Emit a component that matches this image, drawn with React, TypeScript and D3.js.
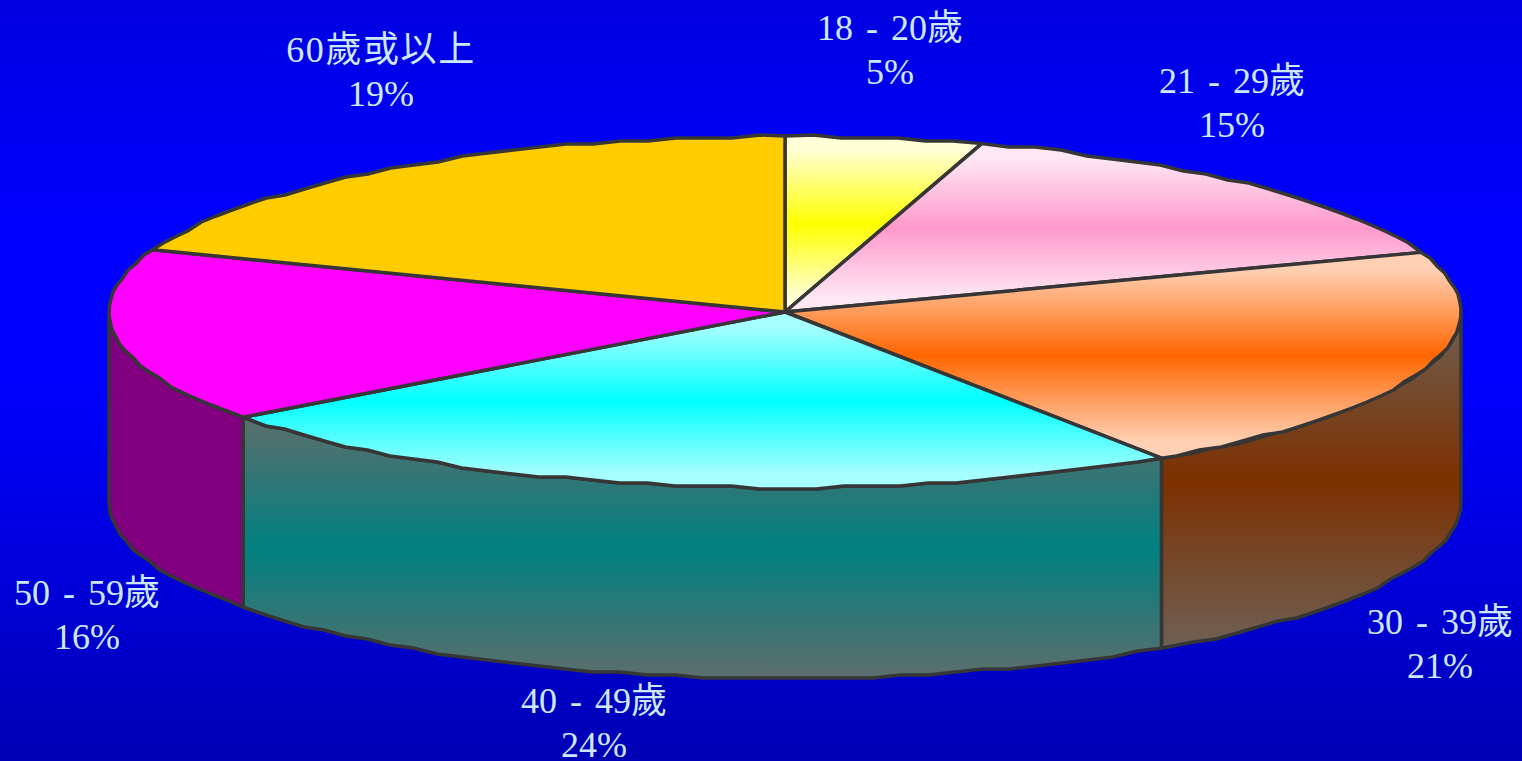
import React from "react";
import * as d3 from "d3";

const ageGroups = ["18 - 20歲", "21 - 29歲", "30 - 39歲", "40 - 49歲", "50 - 59歲", "60歲或以上"];
const percentLabels = ["5%", "15%", "21%", "24%", "16%", "19%"];
const drawnShares = [4.7, 14.8, 21.1, 24.2, 15.95, 19.25];
const topEdgeColors = ["#ffffd8", "#ffe8f4", "#ffd0b4", "#a8ffff", "#ff00ff", "#ffcc00"];
const topMidColors = ["#ffff00", "#ff99cc", "#ff6600", "#00ffff", "#ff00ff", "#ffcc00"];
const sideEdgeColors = ["#000", "#000", "#6e6054", "#5c6e6c", "#800080", "#000"];
const sideMidColors = ["#000", "#000", "#7c3000", "#008080", "#800080", "#000"];

const W = 1522, H = 761;
const cx = 785, cy = 312, rx = 676, ry = 176, depth = 190;
const labelLayout = [
  { x: 890, y: 40, spacing: 0 }, { x: 1232, y: 93, spacing: 0 }, { x: 1440, y: 634, spacing: 0 },
  { x: 594, y: 713, spacing: 0 }, { x: 87, y: 605, spacing: 0 }, { x: 381, y: 62, spacing: 1.6 },
];

const xs = d3.scaleLinear().domain([-1, 1]).range([cx - rx, cx + rx]);
const ys = d3.scaleLinear().domain([-1, 1]).range([cy - ry, cy + ry]);
const line = d3.line();

const rimPoint = (a: number, dy = 0): [number, number] => [xs(Math.sin(a)), ys(-Math.cos(a)) + dy];

// A rim traced as a coarse pixel-snapped polyline, as in the original bitmap.
function rim(a0: number, a1: number, dy = 0): [number, number][] {
  const step = (2.4 * Math.PI) / 180;
  const pts: [number, number][] = [rimPoint(a0, dy)];
  for (let a = a0 + step; a < a1 - step / 2; a += step) {
    const [x, y] = rimPoint(a, dy);
    pts.push([x, Math.round(y / 3) * 3]);
  }
  pts.push(rimPoint(a1, dy));
  return pts;
}

const arcs = d3.pie<number>().sort(null).startAngle(0).endAngle(2 * Math.PI)(drawnShares);
const STROKE = "#363636";

export default function App() {
  const sides = arcs
    .map((d, i) => ({ i, a0: Math.max(d.startAngle, Math.PI / 2), a1: Math.min(d.endAngle, (3 * Math.PI) / 2) }))
    .filter((s) => s.a1 > s.a0);
  return (
    <svg width={W} height={H} viewBox={`0 0 ${W} ${H}`}
      style={{ position: "fixed", left: 0, top: 0, display: "block" }}>
      <defs>
        <linearGradient id="bg" x1="0" y1="0" x2="0" y2="1">
          <stop offset="0" stopColor="#0000e0" />
          <stop offset="0.3" stopColor="#0000ff" />
          <stop offset="0.5" stopColor="#0000ff" />
          <stop offset="1" stopColor="#0000b4" />
        </linearGradient>
        {ageGroups.map((_, i) => (
          <linearGradient key={i} id={`top${i}`} x1="0" y1="0" x2="0" y2="1">
            <stop offset="0.08" stopColor={topEdgeColors[i]} />
            <stop offset="0.5" stopColor={topMidColors[i]} />
            <stop offset="0.92" stopColor={topEdgeColors[i]} />
          </linearGradient>
        ))}
        {ageGroups.map((_, i) => (
          <linearGradient key={i} id={`side${i}`} x1="0" y1="0" x2="0" y2="1">
            <stop offset="0" stopColor={sideEdgeColors[i]} />
            <stop offset="0.5" stopColor={sideMidColors[i]} />
            <stop offset="1" stopColor={sideEdgeColors[i]} />
          </linearGradient>
        ))}
      </defs>
      <rect width={W} height={H} fill="url(#bg)" />
      {sides.map((s) => {
        const upper = rim(s.a0, s.a1);
        const lower = rim(s.a0, s.a1, depth).reverse();
        return (
          <path key={s.i} d={line([...upper, ...lower])! + "Z"} fill={`url(#side${s.i})`}
            stroke={STROKE} strokeWidth={3.5} strokeLinejoin="round" />
        );
      })}
      {arcs.map((d, i) => (
        <path key={i} d={line([[cx, cy], ...rim(d.startAngle, d.endAngle)])! + "Z"}
          fill={`url(#top${i})`} stroke={STROKE} strokeWidth={3.5} strokeLinejoin="round" />
      ))}
      <g fontFamily="'Liberation Serif','Noto Sans CJK TC',serif" fontSize={36} fill="#cce8ff" textAnchor="middle" wordSpacing={4}>
        {ageGroups.map((g, i) => (
          <g key={g}>
            <text x={labelLayout[i].x} y={labelLayout[i].y} letterSpacing={labelLayout[i].spacing}>{g.replace(/ /g, "\u00a0")}</text>
            <text x={labelLayout[i].x} y={labelLayout[i].y + 44}>{percentLabels[i]}</text>
          </g>
        ))}
      </g>
    </svg>
  );
}
